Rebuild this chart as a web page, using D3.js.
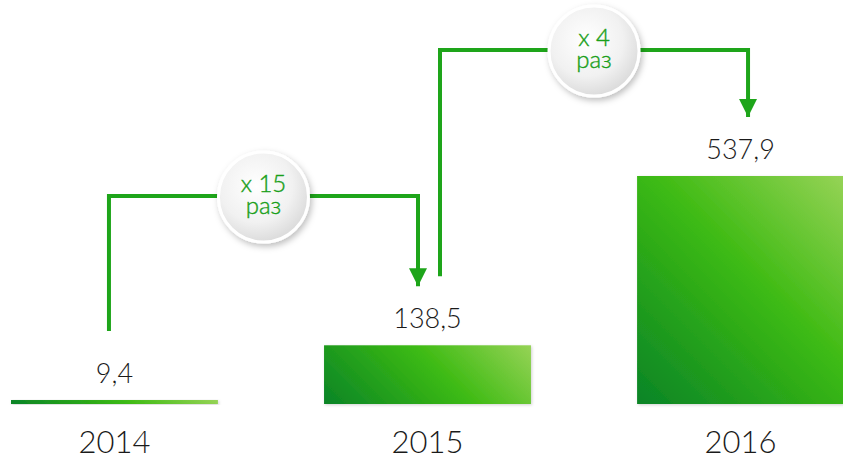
<!DOCTYPE html>
<html>
<head>
<meta charset="utf-8">
<script src="https://cdn.jsdelivr.net/npm/d3@7"></script>
<style>
  body { margin: 0; background: #fff; }
  svg { display: block; }
</style>
</head>
<body>
<div id="chart"></div>
<script>
// Data
var years = ["2014", "2015", "2016"];
var values = [9.4, 138.5, 537.9];
var valueLabels = ["9,4", "138,5", "537,9"];
var growthLabels = ["x 15", "x 4"];
var growthUnit = "раз";

var width = 843,
    height = 459,
    green = "#1ea51a";

var svg = d3.select("#chart")
    .append("svg")
    .attr("width", width)
    .attr("height", height);

var defs = svg.append("defs");

// circle fill
var cgrad = defs.append("radialGradient")
    .attr("id", "circGrad")
    .attr("cx", "42%").attr("cy", "38%").attr("r", "62%");
cgrad.append("stop").attr("offset", "0%").attr("stop-color", "#ffffff");
cgrad.append("stop").attr("offset", "65%").attr("stop-color", "#f1f1f1");
cgrad.append("stop").attr("offset", "100%").attr("stop-color", "#dcdcdc");

var shadow = defs.append("filter").attr("id", "shadow")
    .attr("x", "-30%").attr("y", "-30%").attr("width", "160%").attr("height", "160%");
shadow.append("feDropShadow")
    .attr("dx", 2).attr("dy", 3).attr("stdDeviation", 3)
    .attr("flood-color", "#000").attr("flood-opacity", 0.25);

var barShadow = defs.append("filter").attr("id", "barShadow")
    .attr("x", "-10%").attr("y", "-10%").attr("width", "120%").attr("height", "130%");
barShadow.append("feDropShadow")
    .attr("dx", 1).attr("dy", 1).attr("stdDeviation", 1.5)
    .attr("flood-color", "#000").attr("flood-opacity", 0.18);

var arrowHead = defs.append("marker")
    .attr("id", "arrow")
    .attr("viewBox", "0 0 10 10")
    .attr("refX", 10).attr("refY", 5)
    .attr("markerWidth", 4.5).attr("markerHeight", 4.5)
    .attr("markerUnits", "strokeWidth")
    .attr("orient", "auto");
arrowHead.append("path").attr("d", "M0,0 L10,5 L0,10 Z").attr("fill", green);

// scales
var x = d3.scaleBand()
    .domain(years)
    .range([11, 844])
    .paddingInner(0.339)
    .paddingOuter(0);

var y = d3.scaleLinear()
    .domain([0, d3.max(values)])
    .range([404, 176]);

// one 45 degree gradient per bar: dark bottom-left to light top-right
values.forEach(function(d, i) {
    var bx = x(years[i]),
        w = x.bandwidth(),
        top = y(d),
        h = y(0) - y(d),
        half = (w + h) / 2;
    var g = defs.append("linearGradient")
        .attr("id", "barGrad" + i)
        .attr("gradientUnits", "userSpaceOnUse")
        .attr("x1", bx).attr("y1", top + h)
        .attr("x2", bx + half).attr("y2", top + h - half);
    g.append("stop").attr("offset", "0%").attr("stop-color", "#0a8427");
    g.append("stop").attr("offset", "55%").attr("stop-color", "#3cba12");
    g.append("stop").attr("offset", "100%").attr("stop-color", "#96d356");
});

// bars
svg.selectAll("rect.bar")
    .data(values)
    .enter()
    .append("rect")
    .attr("class", "bar")
    .attr("x", function(d, i) { return x(years[i]); })
    .attr("y", function(d) { return y(d); })
    .attr("width", x.bandwidth())
    .attr("height", function(d) { return y(0) - y(d); })
    .attr("fill", function(d, i) { return "url(#barGrad" + i + ")"; })
    .attr("filter", "url(#barShadow)");

// value labels above bars
svg.selectAll("text.value")
    .data(values)
    .enter()
    .append("text")
    .attr("class", "value")
    .attr("x", function(d, i) { return x(years[i]) + x.bandwidth() / 2; })
    .attr("y", function(d) { return y(d) - 17; })
    .attr("text-anchor", "middle")
    .style("font", "300 27px Lato, sans-serif")
    .style("fill", "#1a1a1a")
    .text(function(d, i) { return valueLabels[i]; });

// year labels
var xAxis = svg.append("g")
    .attr("transform", "translate(0," + 453 + ")");
xAxis.selectAll("text")
    .data(years)
    .enter()
    .append("text")
    .attr("x", function(d) { return x(d) + x.bandwidth() / 2; })
    .attr("text-anchor", "middle")
    .style("font", "300 31px Lato, sans-serif")
    .style("fill", "#1a1a1a")
    .text(function(d) { return d; });

// growth connectors between neighbouring bars
var connectorLevel = [196, 50],
    startOffset = [-5.5, 12.5],
    endOffset = [-9.5, 7.5];

growthLabels.forEach(function(label, i) {
    var x0 = x(years[i]) + x.bandwidth() / 2 + startOffset[i],
        x1 = x(years[i + 1]) + x.bandwidth() / 2 + endOffset[i],
        yStart = y(values[i]) - 69,
        yEnd = y(values[i + 1]) - 59,
        yTop = connectorLevel[i];

    svg.append("path")
        .attr("d", "M" + x0 + "," + yStart + " V" + yTop + " H" + x1 + " V" + yEnd)
        .attr("fill", "none")
        .attr("stroke", green)
        .attr("stroke-width", 4)
        .attr("marker-end", "url(#arrow)");

    var cx = (x0 + x1) / 2;
    var badge = svg.append("g")
        .attr("transform", "translate(" + cx + "," + (yTop + 1) + ")");
    badge.append("circle")
        .attr("r", 45)
        .attr("fill", "url(#circGrad)")
        .attr("stroke", "#ffffff")
        .attr("stroke-width", 3)
        .attr("filter", "url(#shadow)");
    badge.append("text")
        .attr("y", -5)
        .attr("text-anchor", "middle")
        .style("font", "300 24px Lato, sans-serif")
        .style("fill", "#1a9f1a")
        .style("stroke", "#1a9f1a")
        .style("stroke-width", 0.4)
        .text(label);
    badge.append("text")
        .attr("y", 17)
        .attr("text-anchor", "middle")
        .style("font", "300 24px Lato, sans-serif")
        .style("fill", "#1a9f1a")
        .style("stroke", "#1a9f1a")
        .style("stroke-width", 0.4)
        .text(growthUnit);
});
</script>
</body>
</html>
